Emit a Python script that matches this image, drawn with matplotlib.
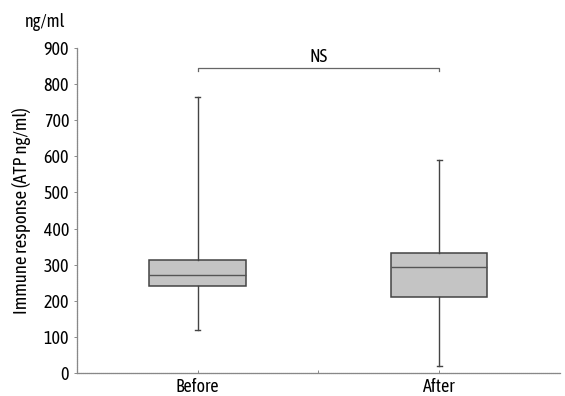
import matplotlib
matplotlib.use('Agg')
import matplotlib.pyplot as plt
from matplotlib import font_manager

# summary stats read as min, q1, median, q3, max (ATP ng/ml)
groups = ["Before", "After"]
whisker_low = [120, 20]
q1 = [242, 210]
median = [272, 293]
q3 = [313, 332]
whisker_high = [765, 590]
y_ticks = [0, 100, 200, 300, 400, 500, 600, 700, 800, 900]
sig_label = "NS"
sig_level = 845

# narrow sans for the labels, first one that is installed
names = {f.name for f in font_manager.fontManager.ttflist}
for cand in ['Asap Condensed', 'Archivo Narrow', 'Barlow Condensed', 'DejaVu Sans']:
    if cand in names:
        break
plt.rcParams['font.family'] = [cand, 'DejaVu Sans']

fig = plt.figure(figsize=(5.65, 3.96), dpi=100)
ax = fig.add_axes([0.136, 0.058, 0.855, 0.821])

stats = []
for i, g in enumerate(groups):
    stats.append(dict(label=g, whislo=whisker_low[i], q1=q1[i], med=median[i],
                      q3=q3[i], whishi=whisker_high[i], fliers=[]))

edge = '#444444'
ax.bxp(stats, positions=[1, 2], widths=0.4, patch_artist=True, showfliers=False,
       boxprops=dict(facecolor='#c4c4c4', edgecolor=edge, linewidth=1.1),
       medianprops=dict(color='#555555', linewidth=1.0),
       whiskerprops=dict(color=edge, linewidth=1.0),
       capprops=dict(color=edge, linewidth=1.0),
       capwidths=0.02)

ax.set_xlim(0.5, 2.5)
ax.set_ylim(0, 900)
ax.set_yticks(y_ticks)
ax.set_xticks([1, 1.5, 2])
ax.set_xticklabels([groups[0], '', groups[1]])
ax.tick_params(axis='both', labelsize=13, colors='#777777', length=2, width=0.6)
ax.tick_params(axis='x', direction='in', length=2)
for lab in ax.get_xticklabels() + ax.get_yticklabels():
    lab.set_color('black')

for s in ['top', 'right']:
    ax.spines[s].set_visible(False)
for s in ['left', 'bottom']:
    ax.spines[s].set_color('#888888')
    ax.spines[s].set_linewidth(0.9)
    ax.spines[s].set_linestyle((0, (1, 0.6)))

ax.set_ylabel('Immune response (ATP ng/ml)', fontsize=13.5, labelpad=9)
fig.text(0.08, 0.945, 'ng/ml', fontsize=13, ha='center', va='center')

# significance bracket
ax.plot([1, 1, 2, 2], [sig_level - 8, sig_level, sig_level, sig_level - 8],
        color='#666666', lw=0.9, clip_on=False)
ax.text(1.5, sig_level + 30, sig_label, ha='center', va='center', fontsize=13)

fig.savefig('out.png', dpi=100)
